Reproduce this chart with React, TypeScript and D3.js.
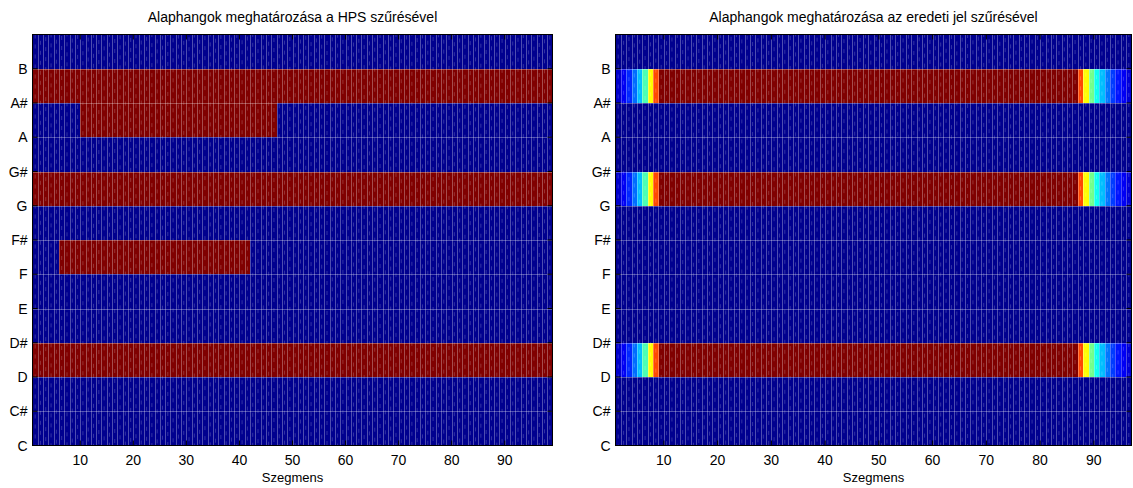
import React from 'react';
import * as d3 from 'd3';

const notes = ['C', 'C#', 'D', 'D#', 'E', 'F', 'F#', 'G', 'G#', 'A', 'A#', 'B'];
const xTicks = [10, 20, 30, 40, 50, 60, 70, 80, 90];
const leftTitle = 'Alaphangok meghatározása a HPS szűrésével';
const rightTitle = 'Alaphangok meghatározása az eredeti jel szűrésével';
const xLabel = 'Szegmens';

// Left panel (HPS): 98 segments, red runs — [rowIndex (1 = C … 12 = B), firstSegment, lastSegment, value]
const leftSegments = 99;
const leftRuns: number[][] = [
  [11, 1, 98, 1],
  [10, 10, 46, 1],
  [8, 1, 98, 1],
  [6, 6, 41, 1],
  [3, 1, 98, 1],
];

// Right panel (original signal): 96 segments; active rows with fade-in / fade-out values
const rightSegments = 97;
const rightRows = [11, 8, 3];
const rightRampInStart = 1;
const rightRampIn = [0.06, 0.1, 0.15, 0.22, 0.3, 0.44, 0.62, 0.8];
const rightFullStart = 9;
const rightFullEnd = 86;
const rightRampOutStart = 87;
const rightRampOut = [0.8, 0.62, 0.48, 0.38, 0.3, 0.23, 0.17, 0.13, 0.1, 0.07];

const FONT = 'Liberation Sans, Arial, sans-serif';

function jet(v: number): string {
  const u = 1 / 64 + v * (63 / 64);
  const c = (x: number) => Math.max(0, Math.min(1, x));
  const r = c(1.5 - Math.abs(4 * u - 3));
  const g = c(1.5 - Math.abs(4 * u - 2));
  const b = c(1.5 - Math.abs(4 * u - 1));
  return d3.rgb(r * 255, g * 255, b * 255).formatHex();
}

type Cell = { x0: number; x1: number; row: number; v: number };

const leftCells: Cell[] = leftRuns.map(([row, a, b, v]) => ({ x0: a, x1: b + 1, row, v }));

const rightCells: Cell[] = [];
rightRows.forEach((row) => {
  rightRampIn.forEach((v, i) => {
    const k = rightRampInStart + i;
    rightCells.push({ x0: k, x1: k + 1, row, v });
  });
  rightCells.push({ x0: rightFullStart, x1: rightFullEnd + 1, row, v: 1 });
  rightRampOut.forEach((v, i) => {
    const k = rightRampOutStart + i;
    rightCells.push({ x0: k, x1: k + 1, row, v });
  });
});

const TOP = 34.5;
const BOTTOM = 445.5;

function Panel(props: {
  id: string;
  left: number;
  right: number;
  domain: [number, number];
  cells: Cell[];
  title: string;
}) {
  const { id, left, right, domain, cells, title } = props;
  const x = d3.scaleLinear().domain(domain).range([left, right]);
  const y = d3.scaleLinear().domain([1, 13]).range([BOTTOM, TOP]);
  const edges = d3.range(domain[0] + 1, domain[1]);
  const centers = d3.range(domain[0] + 0.5, domain[1]);
  const rows = d3.range(2, 13);
  const cx = (left + right) / 2;
  const tickLen = 5;
  return (
    <g>
      <defs>
        <clipPath id={id}>
          <rect x={left} y={TOP} width={right - left} height={BOTTOM - TOP} />
        </clipPath>
      </defs>
      <g clipPath={`url(#${id})`}>
        <rect x={left} y={TOP} width={right - left} height={BOTTOM - TOP} fill={jet(0)} />
        {cells.map((c, i) => (
          <rect
            key={i}
            x={x(c.x0)}
            y={y(c.row + 1)}
            width={x(c.x1) - x(c.x0)}
            height={y(c.row) - y(c.row + 1)}
            fill={jet(c.v)}
            shapeRendering="crispEdges"
          />
        ))}
        {centers.map((c, i) => (
          <line
            key={'s' + i}
            x1={x(c)}
            x2={x(c)}
            y1={TOP}
            y2={BOTTOM}
            stroke="#ffffff"
            strokeOpacity={0.22}
            strokeWidth={0.9}
            strokeDasharray="4 6"
            strokeDashoffset={(i * 3.7) % 10}
          />
        ))}
        {edges.map((e, i) => (
          <line
            key={'v' + i}
            x1={Math.round(x(e)) + 0.5}
            x2={Math.round(x(e)) + 0.5}
            y1={TOP}
            y2={BOTTOM}
            stroke="#ffffff"
            strokeOpacity={0.3}
            strokeWidth={1}
          />
        ))}
        {rows.map((r) => (
          <line
            key={'h' + r}
            x1={left}
            x2={right}
            y1={Math.round(y(r)) + 0.5}
            y2={Math.round(y(r)) + 0.5}
            stroke="#ffffff"
            strokeOpacity={0.3}
            strokeWidth={1}
          />
        ))}
      </g>
      {xTicks.map((t) => (
        <g key={'xt' + t}>
          <line x1={x(t)} x2={x(t)} y1={BOTTOM} y2={BOTTOM - tickLen} stroke="#000" />
          <line x1={x(t)} x2={x(t)} y1={TOP} y2={TOP + tickLen} stroke="#000" />
          <text x={x(t)} y={BOTTOM + 19} textAnchor="middle" fontFamily={FONT} fontSize={14} fill="#000">
            {t}
          </text>
        </g>
      ))}
      {notes.map((n, i) => (
        <g key={'yt' + n}>
          <line x1={left} x2={left + tickLen} y1={y(i + 1)} y2={y(i + 1)} stroke="#000" />
          <line x1={right} x2={right - tickLen} y1={y(i + 1)} y2={y(i + 1)} stroke="#000" />
          <text
            x={left - 5}
            y={y(i + 1) + 5}
            textAnchor="end"
            fontFamily={FONT}
            fontSize={14}
            fill="#000"
          >
            {n}
          </text>
        </g>
      ))}
      <rect x={left} y={TOP} width={right - left} height={BOTTOM - TOP} fill="none" stroke="#000" strokeWidth={1} />
      <text x={cx} y={22} textAnchor="middle" fontFamily={FONT} fontSize={14} fill="#000">
        {title}
      </text>
      <text x={cx} y={482} textAnchor="middle" fontFamily={FONT} fontSize={13} fill="#000">
        {xLabel}
      </text>
    </g>
  );
}

export default function App() {
  return (
    <svg
      width={1133}
      height={488}
      style={{ position: 'absolute', left: 0, top: 0, background: '#fff' }}
    >
      <rect x={0} y={0} width={1133} height={488} fill="#fff" />
      <Panel id="clipL" left={32.5} right={552.5} domain={[1, leftSegments]} cells={leftCells} title={leftTitle} />
      <Panel id="clipR" left={615.5} right={1131.5} domain={[1, rightSegments]} cells={rightCells} title={rightTitle} />
    </svg>
  );
}
